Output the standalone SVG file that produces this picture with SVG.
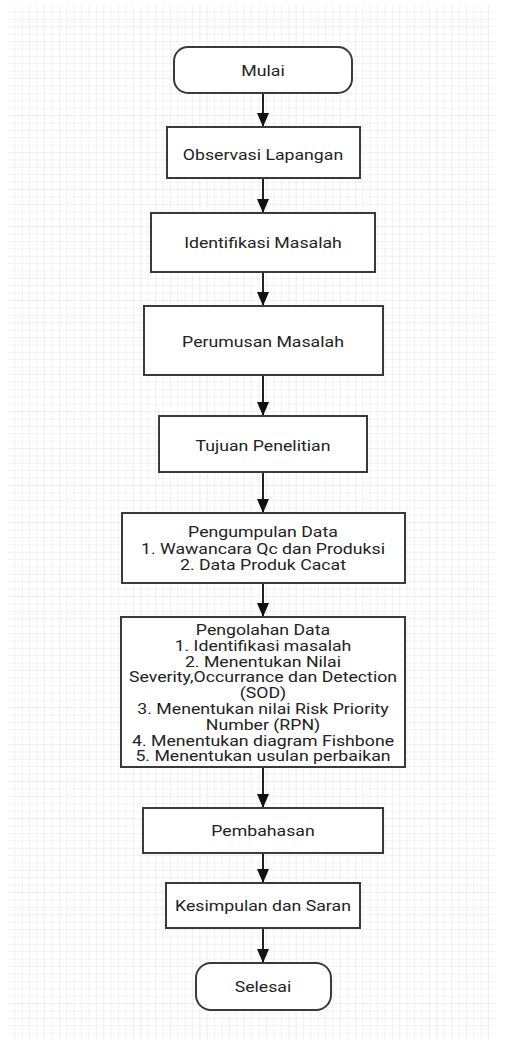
<svg xmlns="http://www.w3.org/2000/svg" width="507" height="1048" viewBox="0 0 507 1048">
<defs>
<pattern id="grid" x="8" y="5" width="7.4" height="7.4" patternUnits="userSpaceOnUse">
<path d="M7.4 0V7.4M0 7.4H7.4" fill="none" stroke="#e4e4e4" stroke-width="1"/>
</pattern>
<marker id="ah" viewBox="0 0 14 12" refX="14" refY="6" markerWidth="14" markerHeight="12" markerUnits="userSpaceOnUse" orient="auto">
<path d="M0 0L14 6L0 12Z" fill="#111"/>
</marker>
</defs>
<style>
.n{fill:#fff;stroke:#3a3a3a;stroke-width:2}
.t{font-family:Roboto,"Liberation Sans",sans-serif;font-size:15px;fill:#222;text-anchor:middle}
.c{stroke:#222;stroke-width:2;fill:none}
</style>
<rect width="507" height="1048" fill="#fff"/>
<rect x="8" y="5" width="487" height="1035" fill="url(#grid)"/>
<g id="connectors">
<line class="c" x1="263" y1="93" x2="263" y2="127" marker-end="url(#ah)"/>
<line class="c" x1="263" y1="178" x2="263" y2="213" marker-end="url(#ah)"/>
<line class="c" x1="263" y1="272" x2="263" y2="306" marker-end="url(#ah)"/>
<line class="c" x1="263" y1="375" x2="263" y2="416" marker-end="url(#ah)"/>
<line class="c" x1="263" y1="472" x2="263" y2="513" marker-end="url(#ah)"/>
<line class="c" x1="263" y1="583" x2="263" y2="617" marker-end="url(#ah)"/>
<line class="c" x1="263" y1="767" x2="263" y2="808" marker-end="url(#ah)"/>
<line class="c" x1="263" y1="853" x2="263" y2="883" marker-end="url(#ah)"/>
<line class="c" x1="263" y1="928" x2="263" y2="963" marker-end="url(#ah)"/>
</g>
<g id="mulai"><rect class="n" x="174" y="47" width="178" height="46" rx="14"/><g transform="matrix(1.18 0 0 1 -47.34 0)"><text class="t" x="263" y="76.5">Mulai</text></g></g>
<g id="observasi"><rect class="n" x="167" y="127" width="193" height="51"/><g transform="matrix(1.18 0 0 1 -47.34 0)"><text class="t" x="263" y="160">Observasi Lapangan</text></g></g>
<g id="identifikasi"><rect class="n" x="151" y="213" width="224" height="59"/><g transform="matrix(1.18 0 0 1 -47.34 0)"><text class="t" x="263" y="248">Identifikasi Masalah</text></g></g>
<g id="perumusan"><rect class="n" x="144" y="306" width="239" height="69"/><g transform="matrix(1.18 0 0 1 -47.34 0)"><text class="t" x="263" y="347">Perumusan Masalah</text></g></g>
<g id="tujuan"><rect class="n" x="159" y="416" width="208" height="56"/><g transform="matrix(1.18 0 0 1 -47.34 0)"><text class="t" x="263" y="451">Tujuan Penelitian</text></g></g>
<g id="pengumpulan"><rect class="n" x="122" y="513" width="283" height="70"/>
<g transform="matrix(1.18 0 0 1 -47.34 0)">
<text class="t" x="263" y="537.5">Pengumpulan Data</text>
<text class="t" x="263" y="554">1. Wawancara Qc dan Produksi</text>
<text class="t" x="263" y="570.5">2. Data Produk Cacat</text></g></g>
<g id="pengolahan"><rect class="n" x="121" y="617" width="284" height="150"/>
<g transform="matrix(1.18 0 0 1 -47.34 0)">
<text class="t" x="263" y="635">Pengolahan Data</text>
<text class="t" x="263" y="650.8">1. Identifikasi masalah</text>
<text class="t" x="263" y="666.6">2. Menentukan Nilai</text>
<text class="t" x="263" y="682.4">Severity,Occurrance dan Detection</text>
<text class="t" x="263" y="698.2">(SOD)</text>
<text class="t" x="263" y="714">3. Menentukan nilai Risk Priority</text>
<text class="t" x="263" y="729.8">Number (RPN)</text>
<text class="t" x="263" y="745.6">4. Menentukan diagram Fishbone</text>
<text class="t" x="263" y="761.4">5. Menentukan usulan perbaikan</text></g></g>
<g id="pembahasan"><rect class="n" x="143" y="808" width="240" height="45"/><g transform="matrix(1.18 0 0 1 -47.34 0)"><text class="t" x="263" y="836.5">Pembahasan</text></g></g>
<g id="kesimpulan"><rect class="n" x="166" y="883" width="194" height="45"/><g transform="matrix(1.18 0 0 1 -47.34 0)"><text class="t" x="263" y="911.5">Kesimpulan dan Saran</text></g></g>
<g id="selesai"><rect class="n" x="196" y="963" width="135" height="47" rx="15"/><g transform="matrix(1.18 0 0 1 -47.34 0)"><text class="t" x="263" y="992">Selesai</text></g></g>
</svg>
